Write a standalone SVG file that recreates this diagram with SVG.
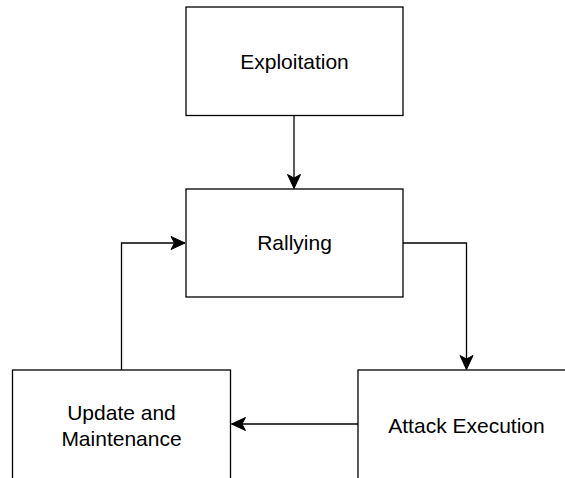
<svg xmlns="http://www.w3.org/2000/svg" width="565" height="478" viewBox="0 0 565 478">
  <style>
    .box { fill: #ffffff; stroke: #000000; stroke-width: 1.3; }
    .label { font-family: "Liberation Sans", Arial, Helvetica, sans-serif; font-size: 21px; fill: #000000; text-anchor: middle; }
    .edge { fill: none; stroke: #000000; stroke-width: 1.3; marker-end: url(#arrow); }
  </style>
  <defs>
    <marker id="arrow" markerUnits="userSpaceOnUse" markerWidth="16" markerHeight="16" viewBox="-15 -8 16 16" refX="0" refY="0" orient="auto">
      <path d="M0,0 L-14,-6.5 L-10.5,0 L-14,6.5 Z" fill="#000000" stroke="#000000" stroke-width="1"/>
    </marker>
  </defs>
  <rect width="565" height="478" fill="#ffffff"/>

  <g id="connectors">
    <path class="edge" d="M294,115.5 L294,188.5"/>
    <path class="edge" d="M403,243 L466.5,243 L466.5,369.5"/>
    <path class="edge" d="M358,424 L231.5,424"/>
    <path class="edge" d="M121.5,370 L121.5,243 L185,243"/>
  </g>

  <g id="exploitation">
    <rect class="box" x="186" y="7" width="217" height="108.5"/>
    <text class="label" x="294.5" y="69">Exploitation</text>
  </g>

  <g id="rallying">
    <rect class="box" x="186" y="189" width="217" height="108"/>
    <text class="label" x="294.5" y="250">Rallying</text>
  </g>

  <g id="update-maintenance">
    <rect class="box" x="12.5" y="370" width="218" height="120"/>
    <text class="label" x="121.5" y="420">Update and</text>
    <text class="label" x="121.5" y="445.5">Maintenance</text>
  </g>

  <g id="attack-execution">
    <rect class="box" x="358" y="370" width="217" height="120"/>
    <text class="label" x="466.5" y="432.5">Attack Execution</text>
  </g>
</svg>
